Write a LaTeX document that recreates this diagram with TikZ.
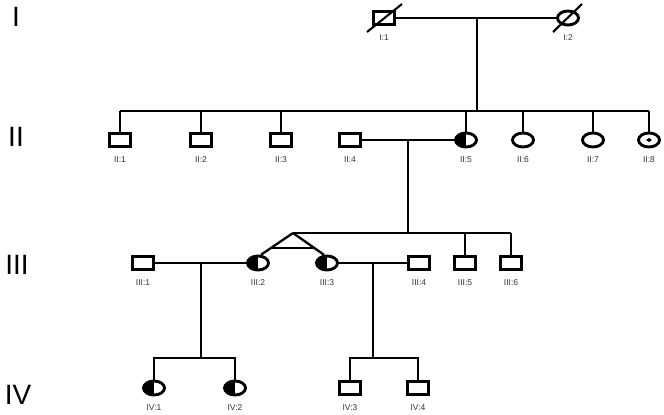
\documentclass[tikz,border=0pt]{standalone}
\usepackage{fontspec}
\setmainfont{Liberation Sans}
\usetikzlibrary{shapes.geometric,calc}
\begin{document}
\begin{tikzpicture}[x=1pt,y=-1pt,
  line width=2.3pt,
  lbl/.style={font=\fontsize{8.5}{9}\selectfont, inner sep=0pt, text=black!80},
  male/.style={draw, rectangle, minimum width=21pt, minimum height=13pt, inner sep=0pt, line width=3.2pt,
     label={[lbl,label distance=7pt]below:{#1}}},
  female/.style={draw, ellipse, minimum width=21pt, minimum height=14pt, inner sep=0pt, line width=2.9pt,
     label={[lbl,label distance=7pt]below:{#1}}},
  affected/.style={path picture={\fill (path picture bounding box.north west) rectangle (path picture bounding box.south);}},
  carrier/.style={path picture={\fill (path picture bounding box.center) ++(-3pt,0) -- ++(3pt,2pt) -- ++(3pt,-2pt) -- ++(-3pt,-2pt) -- cycle;}},
  gen/.style={font=\fontsize{28}{30}\selectfont, inner sep=0pt}
]
\useasboundingbox (0,0) rectangle (664,415);

% generation labels
\node[gen] (gI) at (16,17) {I};
\node[gen] (gII) at (16,137) {II};
\node[gen] (gIII) at (17,265) {III};
\node[gen] (gIV) at (18,395) {IV};

% Generation I
\node[male={I:1}] (i1) at (384,18) {};
\node[female={I:2}] (i2) at (568,18) {};
\draw (i1) -- (i2);
\draw[line width=2.1pt] ($(i1.center)+(-17,14)$) -- ($(i1.center)+(18,-14)$);
\draw[line width=2.1pt] ($(i2.center)+(-15,14)$) -- ($(i2.center)+(14,-14)$);
\coordinate (m1) at (477,18);
\coordinate (s2) at (477,111);
\draw (m1) -- (s2);

% Generation II
\node[male={II:1}] (ii1) at (120,140) {};
\node[male={II:2}] (ii2) at (201,140) {};
\node[male={II:3}] (ii3) at (281,140) {};
\node[male={II:4}] (ii4) at (350,140) {};
\node[female={II:5},affected] (ii5) at (466,140) {};
\node[female={II:6}] (ii6) at (523,140) {};
\node[female={II:7}] (ii7) at (593,140) {};
\node[female={II:8},carrier] (ii8) at (649,140) {};
\coordinate (s2l) at (120,111);
\coordinate (s2r) at (649,111);
\draw (s2l) -- (s2r);
\foreach \n in {ii1,ii2,ii3,ii5,ii6,ii7,ii8} \draw (\n.north) -- (\n |- s2);
\draw (ii4) -- (ii5);
\coordinate (m2) at (408,140);
\coordinate (s3) at (408,233);
\draw (m2) -- (s3);

% Generation III
\node[male={III:1}] (iii1) at (143,263) {};
\node[female={III:2},affected] (iii2) at (258,263) {};
\node[female={III:3},affected] (iii3) at (327,263) {};
\node[male={III:4}] (iii4) at (419,263) {};
\node[male={III:5}] (iii5) at (465,263) {};
\node[male={III:6}] (iii6) at (511,263) {};
\coordinate (apex) at (293,233);
\coordinate (s3r) at (511,233);
\draw (apex) -- (s3r);
\draw (apex) -- (iii2.70);
\draw (apex) -- (iii3.110);
\draw ($(apex)!0.68!(iii2.70)$) -- ($(apex)!0.68!(iii3.110)$);
\draw (iii5.north) -- (iii5 |- s3);
\draw (iii6.north) -- (iii6 |- s3);
\draw (iii1) -- (iii2);
\draw (iii3) -- (iii4);
\coordinate (m3a) at (201,263);
\coordinate (s4a) at (201,358);
\draw (m3a) -- (s4a);
\coordinate (m3b) at (373,263);
\coordinate (s4b) at (373,358);
\draw (m3b) -- (s4b);

% Generation IV
\node[female={IV:1},affected] (iv1) at (154,388) {};
\node[female={IV:2},affected] (iv2) at (235,388) {};
\node[male={IV:3}] (iv3) at (350,388) {};
\node[male={IV:4}] (iv4) at (418,388) {};
\draw (iv1.north) -- (iv1 |- s4a) -- (iv2 |- s4a) -- (iv2.north);
\draw (iv3.north) -- (iv3 |- s4b) -- (iv4 |- s4b) -- (iv4.north);
\end{tikzpicture}
\end{document}
